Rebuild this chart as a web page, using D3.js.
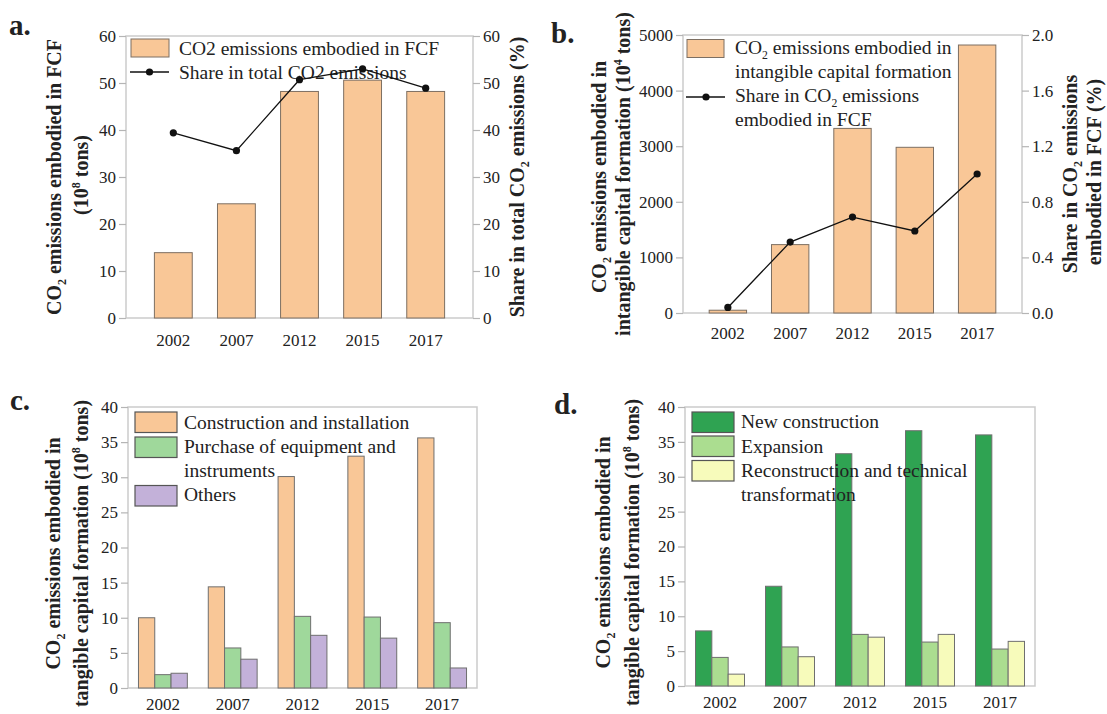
<!DOCTYPE html>
<html>
<head>
<meta charset="utf-8">
<script src="https://cdn.jsdelivr.net/npm/d3@7"></script>
<style>
  html, body { margin: 0; padding: 0; background: #fff; }
  svg { display: block; }
  svg text { font-family: "Liberation Serif", "Times New Roman", "DejaVu Serif", serif !important; fill: #222; }
</style>
</head>
<body>
<svg id="fig" width="1107" height="714" font-family="Liberation Serif, Times New Roman, serif"></svg>
<script>
// Years on the horizontal axis of every panel
const years = ["2002", "2007", "2012", "2015", "2017"];

// Panel a: CO2 embodied in fixed capital formation (10^8 t) and its share of total CO2 (%)
const fcfEmissions = [13.9, 24.3, 48.2, 50.6, 48.2];
const fcfShare = [39.4, 35.6, 50.7, 53.0, 48.9];

// Panel b: CO2 embodied in intangible capital formation (10^4 t) and its share in FCF CO2 (%)
const intangibleEmissions = [50, 1230, 3320, 2980, 4820];
const intangibleShare = [0.04, 0.51, 0.69, 0.59, 1.0];

// Panel c: tangible capital formation by type of work (10^8 t)
const construction = [10.0, 14.4, 30.1, 33.0, 35.6];
const equipment = [1.9, 5.7, 10.2, 10.1, 9.3];
const others = [2.1, 4.1, 7.5, 7.1, 2.85];

// Panel d: tangible capital formation by type of construction (10^8 t)
const newConstruction = [7.9, 14.3, 33.3, 36.6, 36.0];
const expansion = [4.1, 5.6, 7.4, 6.3, 5.3];
const reconstruction = [1.7, 4.2, 7.0, 7.4, 6.4];

// Tick values
const ticksA = [0, 10, 20, 30, 40, 50, 60];
const ticksBLeft = [0, 1000, 2000, 3000, 4000, 5000];
const ticksBRight = [0, 0.4, 0.8, 1.2, 1.6, 2.0];
const ticksCD = [0, 5, 10, 15, 20, 25, 30, 35, 40];

const SERIF = "'Liberation Serif', 'Times New Roman', serif";
const svg = d3.select("#fig");

const COL = {
  peach: "#f9c797",
  green: "#9fd89b",
  purple: "#c3b1d9",
  darkGreen: "#2fa352",
  lightGreen: "#abdd90",
  paleYellow: "#f7fbbb",
  barStroke: "#7d6f62",
  frame: "#cbcbcb",
  tick: "#b5b5b5"
};

// Text made of plain runs, subscripts and superscripts
function richText(parent, parts, attrs, size) {
  const t = parent.append("text").attr("font-family", SERIF);
  Object.entries(attrs).forEach(([k, v]) => t.attr(k, v));
  t.style("font-size", size + "px");
  let shift = 0;
  parts.forEach(p => {
    const s = t.append("tspan").text(p.t);
    let target = 0;
    if (p.sub) { target = size * 0.25; s.style("font-size", (size * 0.6) + "px"); }
    if (p.sup) { target = -size * 0.42; s.style("font-size", (size * 0.6) + "px"); }
    if (target !== shift) { s.attr("dy", target - shift); shift = target; }
  });
  return t;
}

function plainText(parent, x, y, txt, size) {
  return parent.append("text").attr("x", x).attr("y", y)
    .attr("font-family", SERIF).style("font-size", size + "px").text(txt);
}

function frame(g, b) {
  g.append("rect")
    .attr("x", b.x0).attr("y", b.y0)
    .attr("width", b.x1 - b.x0).attr("height", b.y1 - b.y0)
    .attr("fill", "none").attr("stroke", COL.frame).attr("stroke-width", 1.5);
}

function styleAxis(ax) {
  ax.attr("font-family", SERIF);
  ax.select(".domain").remove();
  ax.selectAll(".tick line").attr("stroke", COL.tick).attr("stroke-width", 1.2);
  ax.selectAll(".tick text")
    .attr("font-family", SERIF)
    .style("font-size", "17px").attr("fill", "#2a2a2a");
}

function xLabels(g, x, b, dy) {
  g.selectAll(".xl").data(years).join("text")
    .attr("class", "xl")
    .attr("font-family", SERIF)
    .attr("x", d => x(d) + x.bandwidth() / 2)
    .attr("y", b.y1 + dy)
    .attr("text-anchor", "middle")
    .style("font-size", "17px")
    .text(d => d);
}

function panelLabel(txt, x, y) {
  svg.append("text").attr("x", x).attr("y", y).attr("font-family", SERIF)
    .style("font-size", "29px").style("font-weight", "bold").text(txt);
}

function rotTitle(parts, cx, cy, size) {
  richText(svg, parts, {
    transform: `translate(${cx},${cy}) rotate(-90)`,
    "text-anchor": "middle",
    "font-weight": "bold"
  }, size);
}

// ---------------- Panel a ----------------
(function () {
  const b = { x0: 126, x1: 473, y0: 36, y1: 318 };
  const g = svg.append("g");
  const x = d3.scaleBand().domain(years).range([b.x0, b.x1]).paddingInner(0.4).paddingOuter(0.45);
  const y = d3.scaleLinear().domain([0, 60]).range([b.y1, b.y0]);
  const yr = d3.scaleLinear().domain([0, 60]).range([b.y1, b.y0]);

  frame(g, b);
  g.selectAll(".bar").data(fcfEmissions).join("rect")
    .attr("x", (d, i) => x(years[i])).attr("width", x.bandwidth())
    .attr("y", d => y(d)).attr("height", d => y(0) - y(d))
    .attr("fill", COL.peach).attr("stroke", COL.barStroke).attr("stroke-width", 1);

  styleAxis(g.append("g").attr("transform", `translate(${b.x0},0)`)
    .call(d3.axisLeft(y).tickValues(ticksA).tickSize(7).tickPadding(3)));
  styleAxis(g.append("g").attr("transform", `translate(${b.x1},0)`)
    .call(d3.axisRight(yr).tickValues(ticksA).tickSize(7).tickPadding(3)));
  xLabels(g, x, b, 28);

  // legend
  const lg = g.append("g");
  lg.append("rect").attr("x", 131).attr("y", 39).attr("width", 38).attr("height", 18)
    .attr("fill", COL.peach).attr("stroke", COL.barStroke);
  plainText(lg, 179, 55, "CO2 emissions embodied in FCF", 19.5);
  lg.append("line").attr("x1", 130).attr("x2", 169).attr("y1", 72).attr("y2", 72)
    .attr("stroke", "#111").attr("stroke-width", 1.3);
  lg.append("circle").attr("cx", 149.5).attr("cy", 72).attr("r", 3.6).attr("fill", "#111");
  plainText(lg, 179, 79, "Share in total CO2 emissions", 19.5);

  const cx = i => x(years[i]) + x.bandwidth() / 2;
  g.append("path").datum(fcfShare)
    .attr("d", d3.line().x((d, i) => cx(i)).y(d => yr(d)))
    .attr("fill", "none").attr("stroke", "#111").attr("stroke-width", 1.3);
  g.selectAll(".pt").data(fcfShare).join("circle")
    .attr("cx", (d, i) => cx(i)).attr("cy", d => yr(d)).attr("r", 3.6).attr("fill", "#111");

  panelLabel("a.", 9, 35);
  rotTitle([{ t: "CO" }, { t: "2", sub: true }, { t: " emissions embodied in FCF" }], 61, 177, 20);
  rotTitle([{ t: "(10" }, { t: "8", sup: true }, { t: " tons)" }], 88, 175, 20);
  rotTitle([{ t: "Share in total CO" }, { t: "2", sub: true }, { t: " emissions (%)" }], 524, 177, 20);
})();

// ---------------- Panel b ----------------
(function () {
  const b = { x0: 683, x1: 1022, y0: 35, y1: 313 };
  const g = svg.append("g");
  const x = d3.scaleBand().domain(years).range([b.x0, b.x1]).paddingInner(0.4).paddingOuter(0.42);
  const y = d3.scaleLinear().domain([0, 5000]).range([b.y1, b.y0]);
  const yr = d3.scaleLinear().domain([0, 2.0]).range([b.y1, b.y0]);

  frame(g, b);
  g.selectAll(".bar").data(intangibleEmissions).join("rect")
    .attr("x", (d, i) => x(years[i])).attr("width", x.bandwidth())
    .attr("y", d => y(d)).attr("height", d => y(0) - y(d))
    .attr("fill", COL.peach).attr("stroke", COL.barStroke).attr("stroke-width", 1);

  styleAxis(g.append("g").attr("transform", `translate(${b.x0},0)`)
    .call(d3.axisLeft(y).tickValues(ticksBLeft).tickFormat(d3.format("d")).tickSize(7).tickPadding(3)));
  styleAxis(g.append("g").attr("transform", `translate(${b.x1},0)`)
    .call(d3.axisRight(yr).tickValues(ticksBRight).tickFormat(d3.format(".1f")).tickSize(7).tickPadding(3)));
  xLabels(g, x, b, 26);

  const lg = g.append("g");
  lg.append("rect").attr("x", 687).attr("y", 39.5).attr("width", 37).attr("height", 18)
    .attr("fill", COL.peach).attr("stroke", COL.barStroke);
  richText(lg, [{ t: "CO" }, { t: "2", sub: true }, { t: " emissions embodied in" }], { x: 735, y: 54 }, 19.5);
  plainText(lg, 735, 78, "intangible capital formation", 19.5);
  lg.append("line").attr("x1", 686).attr("x2", 725).attr("y1", 97).attr("y2", 97)
    .attr("stroke", "#111").attr("stroke-width", 1.3);
  lg.append("circle").attr("cx", 706).attr("cy", 97).attr("r", 3.6).attr("fill", "#111");
  richText(lg, [{ t: "Share in CO" }, { t: "2", sub: true }, { t: " emissions" }], { x: 735, y: 102 }, 19.5);
  plainText(lg, 735, 126, "embodied in FCF", 19.5);

  const cx = i => x(years[i]) + x.bandwidth() / 2;
  g.append("path").datum(intangibleShare)
    .attr("d", d3.line().x((d, i) => cx(i)).y(d => yr(d)))
    .attr("fill", "none").attr("stroke", "#111").attr("stroke-width", 1.3);
  g.selectAll(".pt").data(intangibleShare).join("circle")
    .attr("cx", (d, i) => cx(i)).attr("cy", d => yr(d)).attr("r", 3.6).attr("fill", "#111");

  panelLabel("b.", 551, 43);
  rotTitle([{ t: "CO" }, { t: "2", sub: true }, { t: " emissions embodied in" }], 606, 177, 20);
  rotTitle([{ t: "intangible capital formation (10" }, { t: "4", sup: true }, { t: " tons)" }], 630, 174, 20);
  rotTitle([{ t: "Share in CO" }, { t: "2", sub: true }, { t: " emissions" }], 1077, 174, 20);
  rotTitle([{ t: "embodied in FCF (%)" }], 1101, 172, 20);
})();

// Grouped bar panel (c and d)
function groupedPanel(b, seriesList, colors, legendItems, lgX, lgTextX, titleX1, titleX2, label, labelPos) {
  const g = svg.append("g");
  const x = d3.scaleBand().domain(years).range([b.x0, b.x1]).paddingInner(0.3).paddingOuter(0.15);
  const xi = d3.scaleBand().domain(d3.range(seriesList.length)).range([0, x.bandwidth()]);
  const y = d3.scaleLinear().domain([0, 40]).range([b.y1, b.y0]);

  frame(g, b);
  seriesList.forEach((vals, s) => {
    g.selectAll(".s" + s).data(vals).join("rect")
      .attr("x", (d, i) => x(years[i]) + xi(s)).attr("width", xi.bandwidth())
      .attr("y", d => y(d)).attr("height", d => y(0) - y(d))
      .attr("fill", colors[s]).attr("stroke", "#6f6f6f").attr("stroke-width", 1);
  });
  styleAxis(g.append("g").attr("transform", `translate(${b.x0},0)`)
    .call(d3.axisLeft(y).tickValues(ticksCD).tickSize(7).tickPadding(3)));
  xLabels(g, x, b, 22);

  const lg = g.append("g");
  legendItems.forEach(it => {
    lg.append("rect").attr("x", lgX).attr("y", it.ry).attr("width", 42).attr("height", 20.5)
      .attr("fill", colors[it.s]).attr("stroke", "#555").attr("stroke-width", 1.2);
  });
  legendItems.forEach(it => {
    it.lines.forEach(ln => plainText(lg, lgTextX, ln.y, ln.t, 19.5));
  });

  panelLabel(label, labelPos[0], labelPos[1]);
  const cy = (b.y0 + b.y1) / 2 + 6;
  rotTitle([{ t: "CO" }, { t: "2", sub: true }, { t: " emissions embodied in" }], titleX1, cy, 20);
  rotTitle([{ t: "tangible capital formation (10" }, { t: "8", sup: true }, { t: " tons)" }], titleX2, cy, 20);
}

// ---------------- Panel c ----------------
groupedPanel(
  { x0: 128, x1: 477, y0: 407, y1: 688 },
  [construction, equipment, others],
  [COL.peach, COL.green, COL.purple],
  [
    { s: 0, ry: 412, lines: [{ t: "Construction and installation", y: 429 }] },
    { s: 1, ry: 437, lines: [{ t: "Purchase of equipment and", y: 453 }, { t: "instruments", y: 477 }] },
    { s: 2, ry: 485.5, lines: [{ t: "Others", y: 501 }] }
  ],
  135, 184, 60, 88, "c.", [10, 410]
);

// ---------------- Panel d ----------------
groupedPanel(
  { x0: 685, x1: 1035, y0: 407, y1: 686 },
  [newConstruction, expansion, reconstruction],
  [COL.darkGreen, COL.lightGreen, COL.paleYellow],
  [
    { s: 0, ry: 412, lines: [{ t: "New construction", y: 428 }] },
    { s: 1, ry: 436, lines: [{ t: "Expansion", y: 453 }] },
    { s: 2, ry: 460.5, lines: [{ t: "Reconstruction and technical", y: 477 }, { t: "transformation", y: 501 }] }
  ],
  692, 741, 610, 639, "d.", [554, 414]
);
</script>
</body>
</html>
